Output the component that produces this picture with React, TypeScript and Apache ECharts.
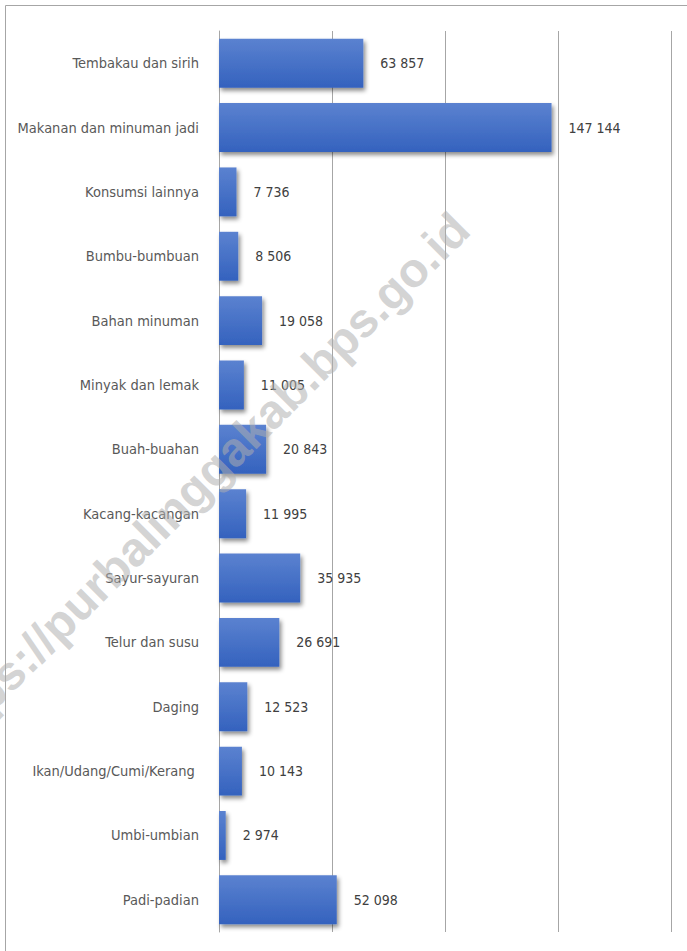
import React, { useEffect, useRef } from "react";
import * as echarts from "echarts";

const categories: string[] = [
  "Tembakau dan sirih",
  "Makanan dan minuman jadi",
  "Konsumsi lainnya",
  "Bumbu-bumbuan",
  "Bahan minuman",
  "Minyak dan lemak",
  "Buah-buahan",
  "Kacang-kacangan",
  "Sayur-sayuran",
  "Telur dan susu",
  "Daging",
  "Ikan/Udang/Cumi/Kerang ",
  "Umbi-umbian",
  "Padi-padian",
];

const values: number[] = [
  63857, 147144, 7736, 8506, 19058, 11005, 20843, 11995, 35935, 26691, 12523,
  10143, 2974, 52098,
];

const axisMin = 0;
const axisMax = 200000;
const axisInterval = 50000;

const watermark = "https://purbalinggakab.bps.go.id";

const FONT = "'DejaVu Sans Condensed', 'Liberation Sans Narrow', sans-serif";

function fmt(v: number): string {
  return String(v).replace(/\B(?=(\d{3})+(?!\d))/g, " ");
}

export default function App() {
  const ref = useRef<HTMLDivElement>(null);

  useEffect(() => {
    document.body.style.margin = "0";
    if (!ref.current) return;
    const chart = echarts.init(ref.current, undefined, { renderer: "svg" });
    chart.setOption({
      animation: false,
      backgroundColor: "#ffffff",
      grid: {
        left: 219,
        right: 16,
        top: 31,
        bottom: 19,
        containLabel: false,
        outerBoundsMode: "none",
      },
      xAxis: {
        type: "value",
        min: axisMin,
        max: axisMax,
        interval: axisInterval,
        axisLabel: { show: false },
        axisLine: { show: false },
        axisTick: { show: false },
        splitLine: { show: true, lineStyle: { color: "#a6a6a6", width: 1 } },
      },
      yAxis: {
        type: "category",
        inverse: true,
        data: categories,
        axisLine: { show: true, lineStyle: { color: "#a6a6a6", width: 1 } },
        axisTick: { show: false },
        axisLabel: {
          margin: 20,
          fontSize: 14.5,
          fontFamily: FONT,
          color: "#595959",
        },
      },
      series: [
        {
          type: "bar",
          data: values,
          barCategoryGap: "24%",
          itemStyle: {
            color: new echarts.graphic.LinearGradient(0, 0, 0, 1, [
              { offset: 0, color: "#5b82d0" },
              { offset: 1, color: "#3462be" },
            ]),
            shadowColor: "rgba(0,0,0,0.45)",
            shadowBlur: 4,
            shadowOffsetX: 2,
            shadowOffsetY: 3,
          },
          label: {
            show: true,
            position: "right",
            distance: 17,
            fontSize: 14,
            fontFamily: FONT,
            color: "#404040",
            formatter: (p: any) => fmt(p.value),
          },
        },
      ],
      graphic: [
        {
          type: "rect",
          z: 100,
          silent: true,
          shape: { x: 5.5, y: 5.5, width: 800, height: 1000 },
          style: { fill: "none", stroke: "#a6a6a6", lineWidth: 1 },
        },
        {
          type: "text",
          z: 200,
          silent: true,
          x: 478,
          y: 238,
          rotation: Math.PI / 4,
          style: {
            text: watermark,
            fontSize: 48,
            fontWeight: "bold",
            fontFamily: "'Liberation Sans', Arial, sans-serif",
            fill: "rgba(175,175,175,0.55)",
            textAlign: "right",
            textVerticalAlign: "bottom",
          },
        },
      ],
    });
    return () => chart.dispose();
  }, []);

  return <div ref={ref} style={{ width: 687, height: 951 }} />;
}
